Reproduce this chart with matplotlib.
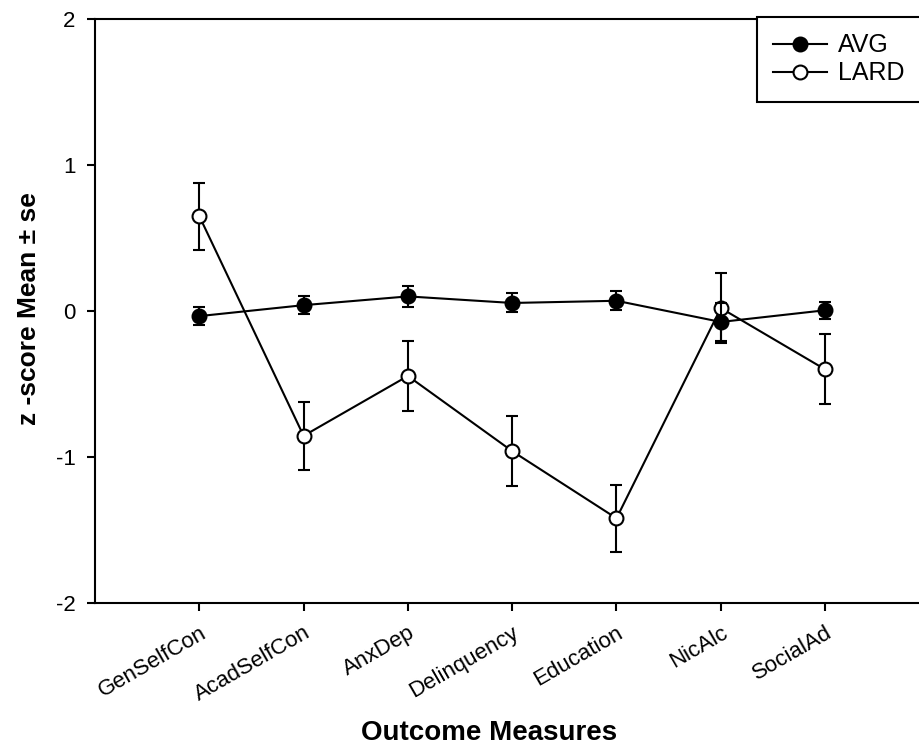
import matplotlib
matplotlib.use('Agg')
import matplotlib.pyplot as plt

plt.rcParams['font.family'] = ['Liberation Sans', 'DejaVu Sans']

measures = ['GenSelfCon', 'AcadSelfCon', 'AnxDep', 'Delinquency', 'Education', 'NicAlc', 'SocialAd']
avg_mean = [-0.035, 0.04, 0.10, 0.055, 0.07, -0.075, 0.005]
avg_se = [0.06, 0.06, 0.07, 0.065, 0.065, 0.13, 0.06]
lard_mean = [0.65, -0.855, -0.445, -0.96, -1.42, 0.02, -0.40]
lard_se = [0.23, 0.235, 0.24, 0.24, 0.23, 0.24, 0.24]
yticks = [-2, -1, 0, 1, 2]

x = list(range(1, len(measures) + 1))

fig = plt.figure(figsize=(9.2, 7.49), dpi=100)
ax = fig.add_axes([95 / 920, 146 / 749, 825 / 920, 584 / 749])

ax.errorbar(x, lard_mean, yerr=lard_se, color='black', lw=1.5, elinewidth=1.5,
            capsize=4.5, capthick=1.5, marker='o', ms=10, mfc='white', mec='black',
            mew=1.5, label='LARD', zorder=2)
ax.errorbar(x, avg_mean, yerr=avg_se, color='black', lw=1.5, elinewidth=1.5,
            capsize=4.5, capthick=1.5, marker='o', ms=10, mfc='black', mec='black',
            mew=1.5, label='AVG', zorder=3)

ax.set_xlim(0, 825 / 104.3)
ax.set_ylim(-2, 2)
ax.set_yticks(yticks)
ax.set_yticklabels([str(v) for v in yticks])
ax.set_xticks(x)
ax.set_xticklabels(measures, rotation=30, ha='right', rotation_mode='anchor')

ax.tick_params(axis='both', direction='out', length=6, width=1.5, labelsize=16)
ax.tick_params(axis='y', pad=8)
ax.tick_params(axis='x', pad=8)

for side in ['left', 'bottom', 'top']:
    ax.spines[side].set_linewidth(1.5)
ax.spines['right'].set_visible(False)

ax.set_xlabel('Outcome Measures', fontsize=20, fontweight='bold')
ax.xaxis.set_label_coords(394 / 825, -0.222)
ax.xaxis.label.set_va('center')
ax.set_ylabel('z -score Mean \u00b1 se', fontsize=19, fontweight='bold')
ax.yaxis.set_label_coords(-0.08, 0.505)
ax.yaxis.label.set_va('center')

handles, labels = ax.get_legend_handles_labels()
handles = [h[0] for h in handles][::-1]
labels = labels[::-1]
leg = ax.legend(handles, labels, loc='upper left', bbox_to_anchor=(0.802, 0.0, 0.4, 1.003),
                mode='expand', borderaxespad=0, fontsize=18, handlelength=2.15,
                handletextpad=0.45, labelspacing=0.16, borderpad=0.65, fancybox=False,
                framealpha=1, edgecolor='black')
leg.get_frame().set_linewidth(1.5)

fig.savefig('out.png', dpi=100)
